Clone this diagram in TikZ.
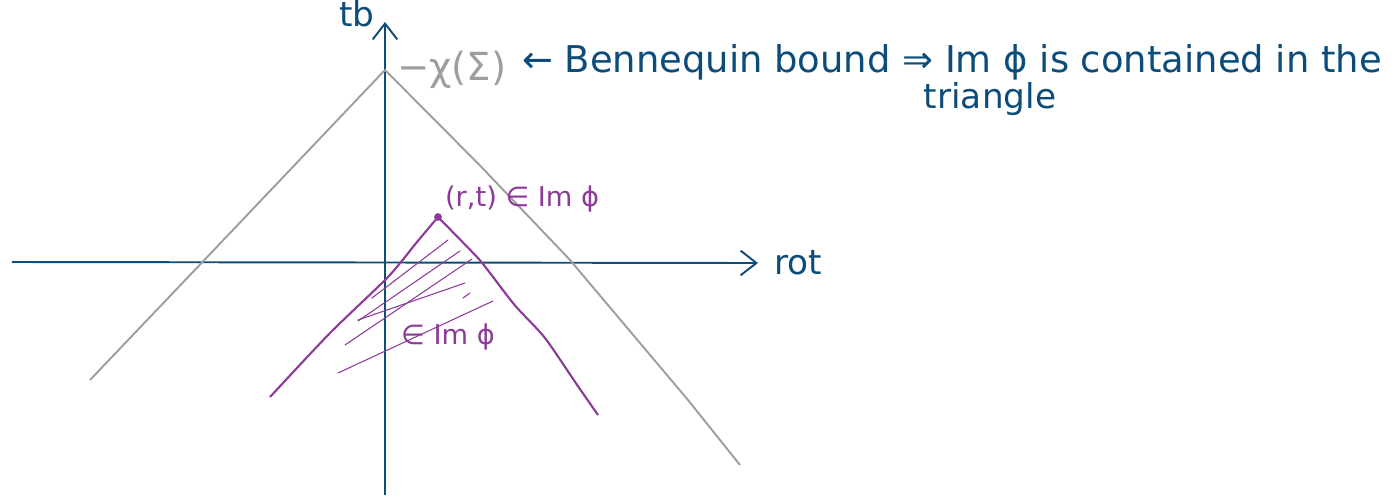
\documentclass[tikz,border=0pt]{standalone}
\usepackage{fontspec}
\setmainfont{DejaVu Sans}
\usepackage{tikz}
\usetikzlibrary{arrows.meta,positioning,calc}
\usepackage{xcolor}
\definecolor{inkBlue}{HTML}{0C4C7A}
\definecolor{inkGray}{HTML}{9E9E9E}
\definecolor{inkPurple}{HTML}{8C3A97}

\begin{document}
\begin{tikzpicture}[
            every node/.style={font=\fontsize{19.5}{23}\selectfont, inner sep=1pt},
            axis/.style={-{Straight Barb[length=9pt, width=14pt]}, line width=1.1pt, draw=inkBlue},
            boundline/.style={line width=1.1pt, draw=inkGray, line join=round},
            imageline/.style={line width=1.2pt, draw=inkPurple, line join=round},
            hatch/.style={line width=0.6pt, draw=inkPurple, line cap=round},
            bluetext/.style={text=inkBlue},
            graytext/.style={text=inkGray, font=\fontsize{22}{26}\selectfont},
            purpletext/.style={text=inkPurple, font=\fontsize{15.5}{19}\selectfont},
            widetext/.style={font=\fontsize{21}{25}\selectfont}
        ]
        \useasboundingbox (-7.70,-4.66) rectangle (20.28,5.26);

        %---------------- Axes ----------------%
        \coordinate (O) at (0,0);
        \coordinate (tbfoot) at (0,-4.64);
        \coordinate (tbtip) at (0,4.82);
        \coordinate (rotfoot) at (-7.46,0.02);
        \coordinate (rottip) at (7.46,0);
        \draw[axis] (tbfoot) -- (tbtip);
        \draw[axis] (rotfoot) -- (rottip);
        \node[bluetext] (tb) at (-0.56,4.98) {tb};
        \node[bluetext, right=0.28cm of rottip] (rot) {rot};

        %---------------- Bennequin triangle ----------------%
        \coordinate (apex) at (0,3.86);
        \coordinate (leftend) at (-5.9,-2.34);
        \coordinate (rightend) at (7.1,-4.04);
        \draw[boundline] (leftend) -- (-3.67,0) -- (apex)
            -- (1.9,1.95) -- (3.7,0.06) -- (6.06,-2.74) -- (rightend);
        \node[graytext, anchor=west] (euler) at (0.2,3.86) {−χ(Σ)};

        %---------------- Bound text ----------------%
        \node[bluetext, widetext, anchor=west] (bound) at (2.7,4.02)
            {← Bennequin bound ⇒ Im ϕ is contained in the};
        \node[bluetext] (triangle) at (12.1,3.28) {triangle};

        %---------------- Image of phi ----------------%
        \coordinate (P) at (1.06,0.92);
        \fill[inkPurple] (P) circle (2.2pt);
        \draw[imageline] plot[smooth, tension=0.4] coordinates {(-2.3,-2.68) (-1.1,-1.4) (0.06,-0.28) (0.64,0.42) (P)};
        \draw[imageline] plot[smooth, tension=0.4] coordinates {(P) (1.84,0.12) (2.1,-0.2) (2.6,-0.85) (3.2,-1.5) (3.85,-2.45) (4.26,-3.04)};
        \node[purpletext, above right=0.05cm and 0.1cm of P] (rt) {(r,t) ∈ Im ϕ};

        % hatching under the point
        \draw[hatch] (-0.26,-0.70) -- (1.26,0.46);
        \draw[hatch] (-0.54,-1.16) -- (1.50,0.24);
        \draw[hatch] (-0.80,-1.64) -- (1.74,0.08);
        \draw[hatch] (-0.54,-1.14) -- (1.60,-0.40);
        \draw[hatch] (-0.94,-2.20) -- (2.16,-0.76);
        \draw[hatch] (1.56,-0.70) -- (1.70,-0.60);
        \node[purpletext] (inim) at (1.26,-1.48) {∈ Im ϕ};

        \end{tikzpicture}
\end{document}
